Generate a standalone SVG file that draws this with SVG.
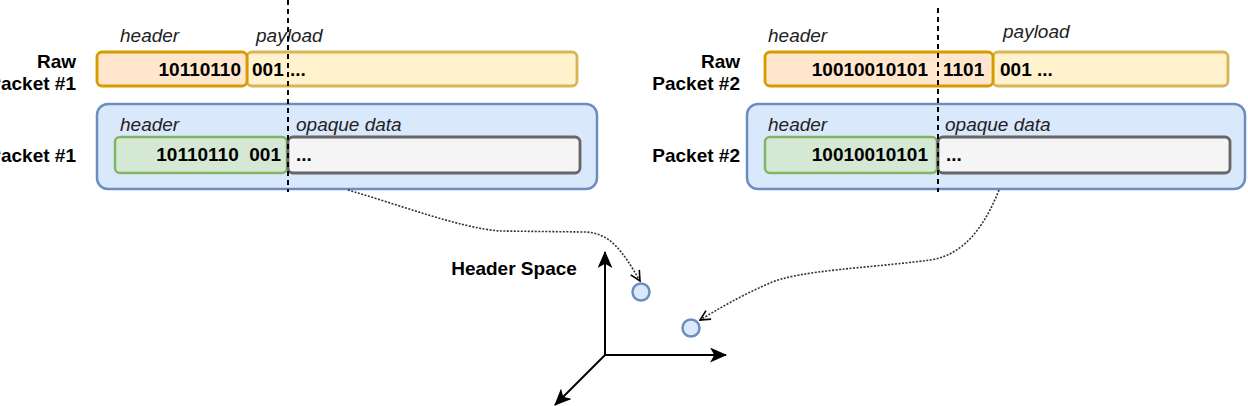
<svg xmlns="http://www.w3.org/2000/svg" width="1248" height="406" viewBox="0 0 1248 406">
<defs>
<style>
.lbl{font-family:"Liberation Sans",Arial,sans-serif;font-size:19px;fill:#000}
.b{font-weight:bold}
.i{font-style:italic;fill:#222}
.hdr{fill:#ffe6cc;stroke:#d79b00;stroke-width:2.8}
.pay{fill:#fff2cc;stroke:#d6b656;stroke-width:2.8}
.cont{fill:#dae8fc;stroke:#6c8ebf;stroke-width:2.5}
.grn{fill:#d5e8d4;stroke:#82b366;stroke-width:2.5}
.gry{fill:#f5f5f5;stroke:#666666;stroke-width:2.8}
.dash{stroke:#000;stroke-width:2;stroke-dasharray:5 4;fill:none}
.dot{stroke:#333;stroke-width:1.6;stroke-dasharray:2 1.5;fill:none}
.axis{stroke:#000;stroke-width:2;fill:none}
.pt{fill:#dae8fc;stroke:#6c8ebf;stroke-width:2.5}
</style>
<marker id="open" viewBox="0 0 12 12" refX="11" refY="6" markerWidth="12" markerHeight="12" markerUnits="userSpaceOnUse" orient="auto">
<path d="M1,1 L11,6 L1,11" fill="none" stroke="#000" stroke-width="1.6"/>
</marker>
<marker id="classic" viewBox="0 0 16 14" refX="15" refY="7" markerWidth="17" markerHeight="15" markerUnits="userSpaceOnUse" orient="auto">
<path d="M0,0 L16,7 L0,14 L4,7 Z" fill="#000"/>
</marker>
</defs>

<g id="packet1-container">
<rect class="cont" x="97" y="104" width="500" height="85" rx="11"/>
<text class="lbl i" x="120" y="131">header</text>
<text class="lbl i" x="296" y="131">opaque data</text>
</g>
<g id="packet1-header">
<rect class="grn" x="115" y="137" width="172" height="36" rx="5"/>
<text class="lbl b" x="281" y="161" text-anchor="end" xml:space="preserve">10110110  001</text>
</g>
<g id="packet1-opaque">
<rect class="gry" x="288" y="137" width="292" height="36" rx="5"/>
<text class="lbl b" x="296" y="161">...</text>
</g>
<g id="raw1-payload">
<rect class="pay" x="247" y="52" width="330" height="34" rx="5"/>
<text class="lbl b" x="252" y="76">001</text>
<text class="lbl b" x="290" y="76">...</text>
<text class="lbl i" x="256" y="42">payload</text>
</g>
<g id="raw1-header">
<rect class="hdr" x="97" y="52" width="150" height="34" rx="5"/>
<text class="lbl b" x="241" y="76" text-anchor="end">10110110</text>
<text class="lbl i" x="120" y="42">header</text>
</g>
<g id="raw1-label">
<text class="lbl b" x="76" y="68" text-anchor="end">Raw</text>
<text class="lbl b" x="76" y="90" text-anchor="end">Packet #1</text>
</g>
<g id="packet1-label">
<text class="lbl b" x="76" y="162" text-anchor="end">Packet #1</text>
</g>

<g id="packet2-container">
<rect class="cont" x="747" y="104" width="498" height="85" rx="11"/>
<text class="lbl i" x="768" y="131">header</text>
<text class="lbl i" x="945" y="131">opaque data</text>
</g>
<g id="packet2-header">
<rect class="grn" x="765" y="137" width="172" height="36" rx="5"/>
<text class="lbl b" x="928" y="161" text-anchor="end">10010010101</text>
</g>
<g id="packet2-opaque">
<rect class="gry" x="938" y="137" width="292" height="36" rx="5"/>
<text class="lbl b" x="946" y="161">...</text>
</g>
<g id="raw2-payload">
<rect class="pay" x="993" y="52" width="235" height="34" rx="5"/>
<text class="lbl b" x="1000" y="76">001 ...</text>
<text class="lbl i" x="1003" y="38">payload</text>
</g>
<g id="raw2-header">
<rect class="hdr" x="765" y="52" width="228" height="34" rx="5"/>
<text class="lbl b" x="928" y="76" text-anchor="end">10010010101</text>
<text class="lbl b" x="943" y="76">1101</text>
<text class="lbl i" x="768" y="42">header</text>
</g>
<g id="raw2-label">
<text class="lbl b" x="740" y="68" text-anchor="end">Raw</text>
<text class="lbl b" x="740" y="90" text-anchor="end">Packet #2</text>
</g>
<g id="packet2-label">
<text class="lbl b" x="740" y="162" text-anchor="end">Packet #2</text>
</g>

<g id="header-space">
<text class="lbl b" x="514" y="275" text-anchor="middle">Header Space</text>
<line class="axis" x1="605" y1="355" x2="605" y2="252" marker-end="url(#classic)"/>
<line class="axis" x1="605" y1="355" x2="726" y2="355" marker-end="url(#classic)"/>
<line class="axis" x1="605" y1="355" x2="555" y2="405" marker-end="url(#classic)"/>
</g>
<g id="point1"><circle class="pt" cx="641" cy="292" r="8.5"/></g>
<g id="point2"><circle class="pt" cx="691" cy="328" r="8.5"/></g>

<g id="connectors">
<line class="dash" x1="288" y1="0" x2="288" y2="192"/>
<line class="dash" x1="938" y1="8" x2="938" y2="192"/>
<path class="dot" d="M348,190 C400,205 460,228 500,231 L585,232 C610,233 622,250 640,281" marker-end="url(#open)"/>
<path class="dot" d="M999,190 C985,225 965,255 930,260 C870,268 800,270 770,283 C740,296 720,308 700,320" marker-end="url(#open)"/>
</g>
</svg>
